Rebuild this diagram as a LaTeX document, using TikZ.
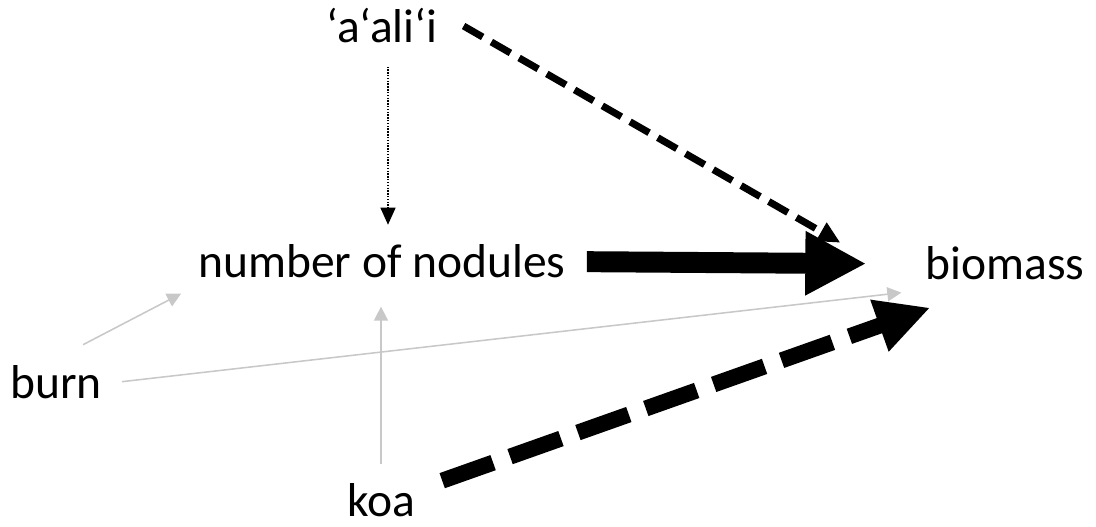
\documentclass[tikz,border=0pt]{standalone}
\usepackage{fontspec}
\setmainfont{Carlito}
\usepackage{tikz}
\usetikzlibrary{arrows.meta, calc}
\definecolor{lightgrey}{RGB}{200, 200, 200}

\begin{document}
\begin{tikzpicture}[line join=miter,
    lbl/.style={anchor=base, inner sep=0pt, font=\fontsize{33.8}{40}\selectfont},
    weak/.style={line width=1.1pt, color=lightgrey, -{Triangle[length=0.35cm, width=0.35cm]}}]
    \useasboundingbox (0,0) rectangle (27.4,-13.175);

    % Variables
    \node[lbl] (aalii) at (9.55,-1.075) {‘a‘ali‘i};
    \node[lbl] (nodules) at (9.55,-6.95) {number of nodules};
    \node[lbl] (biomass) at (25.125,-7.0) {biomass};
    \node[lbl] (burn) at (1.4,-9.95) {burn};
    \node[lbl] (koa) at (9.525,-12.9) {koa};

    % Weak paths (grey)
    \draw[weak] ([shift={(0.675,0.5)}]burn.north) -- ([shift={(-0.425,-0.375)}]nodules.south west);
    \draw[weak] ([xshift=0.5cm]burn.east) -- ([shift={(-0.6,-0.3)}]biomass.south west);
    \draw[weak] ([yshift=0.475cm]koa.north) -- ([yshift=-0.7cm]koa.north |- nodules.south);

    % 'a'ali'i paths
    \draw[line width=1pt, densely dotted, -{Triangle[length=0.425cm, width=0.375cm]}]
        ([xshift=0.15cm]aalii.south) ++(0,-0.575) -- ([xshift=0.15cm,yshift=0.5cm]aalii.south |- nodules.north);
    \draw[line width=5pt, dash pattern=on 0.55cm off 0.25cm, -{Triangle[length=0.55cm, width=0.5cm]}]
        ([xshift=0.65cm]aalii.east) -- ([shift={(-2.125,0.525)}]biomass.west);

    % Strong paths
    \draw[line width=14.9pt, -{Triangle[length=1.525cm, width=1.5cm]}]
        ([xshift=0.525cm]nodules.east) -- ([xshift=-1.475cm]biomass.west);
    \draw[line width=11.4pt, dash pattern=on 1.35cm off 0.45cm, -{Triangle[length=1.35cm, width=1.275cm]}]
        ([shift={(0.675,0.475)}]koa.east) -- ([shift={(0.125,-0.675)}]biomass.south west);
\end{tikzpicture}
\end{document}
